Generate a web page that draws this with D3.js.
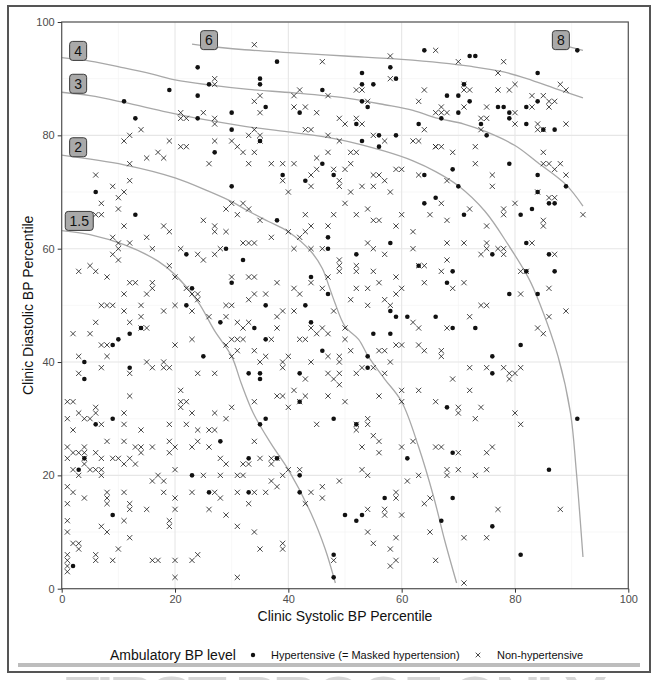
<!DOCTYPE html>
<html>
<head>
<meta charset="utf-8">
<script src="https://cdn.jsdelivr.net/npm/d3@7"></script>
<style>
body { margin: 0; background: #fff; }
svg { display: block; font-family: "Liberation Sans", Arial, sans-serif; }
</style>
</head>
<body>
<svg id="chart" width="663" height="680"></svg>
<script>
// Hypertensive (= masked hypertension) points, [systolic pct, diastolic pct]
var hypertensive = [
	[24,92],[26,89],[19,88],[24,87],[11,86],[13,83],[24,83],[30,84],[30,81],[27,77],[6,70],[13,66],[30,71],[22,59],[23,53],[29,60],[32,58],[30,54],[22,50],
	[38,93],[64,95],[35,90],[35,89],[36,85],[46,88],[42,84],[53,91],[58,92],[53,89],[55,89],[59,90],[53,86],[54,85],[52,82],[63,82],[35,79],[39,73],[43,72],[46,75],[48,73],[53,79],[56,80],[56,78],[59,80],[64,73],[64,68],[66,69],[38,65],[47,62],[58,61],[47,60],[52,59],[63,57],[44,55],[47,52],[36,50],[43,50],
	[72,94],[73,94],[84,91],[91,95],[71,89],[68,87],[70,87],[72,86],[84,86],[77,85],[78,85],[79,84],[79,83],[82,85],[70,84],[67,83],[74,82],[75,80],[82,82],[85,81],[87,81],[69,74],[70,71],[79,75],[84,73],[89,71],[84,70],[86,68],[87,68],[71,66],[81,66],[83,67],[82,61],[76,59],[86,59],[69,56],[68,54],[82,56],[87,56],[79,52],[84,52],
	[14,46],[12,45],[10,44],[9,43],[4,40],[4,37],[12,39],[25,41],[28,47],[33,38],[6,29],[9,30],[4,23],[3,21],[28,26],[33,23],[23,20],[26,17],[33,17],[9,13],[2,4],
	[34,46],[36,44],[44,47],[46,42],[55,45],[58,45],[58,49],[59,48],[61,48],[66,48],[54,41],[35,38],[35,37],[42,38],[54,39],[42,33],[36,30],[35,29],[48,30],[52,29],[61,23],[38,23],[42,20],[42,17],[50,13],[52,12],[53,13],[57,16],[48,6],[48,2],
	[69,46],[73,46],[81,43],[76,41],[76,38],[68,32],[91,30],[69,24],[86,21],[69,16],[67,12],[76,11],[81,6]
];

// Non-hypertensive points
var nonHypertensive = [
	[27,90],[27,89],[14,81],[11,79],[12,80],[21,84],[21,83],[22,83],[25,84],[27,83],[27,82],[33,80],[19,79],[21,78],[22,78],[27,79],[30,79],[31,78],[32,77],[33,75],[26,75],[15,76],[17,77],[18,76],[12,75],[6,73],[9,71],[12,72],[10,69],[11,70],[7,68],[6,66],[7,66],[10,67],[11,64],[18,64],[19,63],[25,65],[27,64],[27,63],[29,63],[30,68],[29,67],[31,66],[32,68],[33,67],[9,62],[10,61],[10,60],[9,59],[10,58],[12,61],[15,62],[16,60],[3,56],[5,57],[6,56],[8,55],[12,54],[13,54],[16,54],[16,53],[15,52],[11,52],[7,50],[8,50],[9,50],[14,50],[20,50],[19,57],[20,55],[21,60],[24,59],[25,58],[22,53],[23,52],[24,52],[24,51],[27,59],[28,60],[32,61],[33,61],[30,55],[29,50],[30,50],[33,55],[33,51],
	[34,96],[46,93],[58,94],[66,95],[34,86],[35,87],[35,84],[41,87],[42,88],[47,87],[41,85],[43,85],[45,84],[43,81],[44,81],[47,80],[52,88],[53,88],[58,90],[54,86],[49,83],[50,82],[52,83],[53,82],[64,88],[63,86],[64,81],[66,84],[34,81],[35,80],[35,79],[34,77],[37,75],[39,75],[41,75],[39,72],[44,73],[45,74],[44,71],[45,76],[47,77],[48,74],[49,72],[49,71],[50,74],[51,75],[51,77],[52,77],[49,79],[55,80],[57,79],[62,79],[63,79],[66,78],[55,73],[56,73],[57,72],[59,74],[60,74],[63,73],[53,71],[55,71],[51,70],[58,70],[40,70],[50,68],[35,65],[43,66],[48,66],[52,66],[54,67],[55,65],[56,65],[60,66],[65,66],[59,64],[62,63],[37,62],[40,63],[42,62],[43,63],[44,64],[47,64],[34,61],[41,60],[44,60],[46,60],[54,61],[55,60],[62,60],[57,59],[49,58],[49,57],[49,56],[52,57],[52,56],[55,56],[63,57],[64,57],[34,55],[38,54],[44,54],[47,55],[34,52],[36,52],[41,53],[42,52],[46,53],[52,53],[54,53],[56,54],[59,55],[57,51],[58,50],[59,52],[60,53],[64,54],[51,51],[54,50],
	[70,93],[78,93],[77,91],[71,89],[71,88],[72,88],[71,85],[77,88],[79,88],[80,89],[83,87],[85,87],[88,89],[89,88],[86,86],[86,85],[87,86],[80,84],[83,85],[75,85],[67,85],[67,84],[68,84],[74,83],[75,83],[74,81],[80,82],[84,82],[84,81],[85,81],[89,82],[66,78],[67,78],[69,77],[73,78],[73,75],[68,72],[76,73],[76,71],[85,77],[85,75],[86,75],[87,74],[88,75],[89,73],[84,70],[86,69],[87,69],[92,66],[67,68],[72,67],[68,65],[68,61],[71,61],[75,64],[78,67],[78,66],[80,68],[85,65],[85,64],[83,61],[75,61],[75,60],[74,59],[77,60],[78,60],[78,59],[87,59],[68,58],[67,56],[69,53],[71,54],[81,56],[82,56],[81,52],[86,53],[74,50],[75,50],
	[11,49],[14,48],[18,49],[6,47],[12,47],[14,46],[15,46],[2,45],[5,45],[7,43],[8,43],[8,41],[3,41],[3,38],[7,39],[12,38],[15,40],[16,39],[18,40],[18,39],[19,39],[20,43],[23,44],[24,38],[27,38],[26,48],[29,48],[30,44],[31,44],[32,44],[29,43],[31,42],[30,41],[31,47],[32,46],[33,47],[23,49],[12,34],[1,33],[2,33],[1,30],[3,31],[4,30],[5,30],[6,31],[6,32],[7,29],[11,31],[11,29],[2,28],[21,35],[21,33],[22,33],[21,32],[14,28],[19,29],[22,29],[23,31],[24,28],[26,28],[27,28],[27,31],[29,30],[30,32],[1,25],[4,25],[2,24],[3,24],[4,24],[1,23],[4,23],[4,22],[2,21],[3,20],[5,21],[6,21],[7,21],[7,20],[6,24],[7,23],[8,26],[9,23],[10,23],[11,22],[12,23],[13,22],[11,26],[13,25],[14,25],[14,24],[16,25],[19,26],[20,25],[19,24],[23,25],[24,26],[26,25],[28,23],[29,22],[32,22],[33,22],[20,21],[16,19],[17,20],[18,19],[25,20],[28,20],[31,20],[32,20],[1,18],[2,17],[1,15],[4,16],[8,17],[8,16],[8,15],[11,17],[12,15],[12,14],[15,14],[18,17],[20,16],[20,14],[23,17],[27,17],[28,16],[26,14],[31,17],[33,15],[29,13],[1,12],[1,10],[7,11],[8,10],[11,12],[19,12],[19,11],[31,11],[12,9],[2,8],[3,8],[3,7],[10,7],[1,6],[1,5],[1,4],[1,3],[6,6],[6,5],[9,5],[16,5],[17,5],[20,5],[23,5],[24,6],[20,2],[31,2],
	[38,48],[39,49],[41,49],[48,49],[38,46],[37,44],[42,44],[43,44],[44,46],[45,45],[46,46],[47,45],[50,46],[50,44],[34,42],[35,40],[36,41],[47,41],[39,40],[39,39],[40,41],[44,40],[49,41],[49,40],[51,42],[56,42],[57,42],[59,43],[60,43],[63,43],[64,42],[62,47],[63,46],[58,40],[43,37],[47,38],[48,37],[49,38],[49,36],[52,38],[53,39],[55,39],[57,38],[34,33],[38,34],[39,34],[40,32],[41,35],[42,33],[43,34],[47,34],[50,33],[56,34],[60,35],[60,33],[63,35],[66,33],[45,29],[52,29],[54,30],[54,29],[52,28],[55,27],[56,26],[56,24],[53,25],[34,26],[60,25],[62,26],[66,25],[35,23],[37,23],[37,22],[38,23],[40,21],[39,20],[42,21],[37,19],[38,18],[34,17],[36,17],[44,17],[43,15],[46,18],[46,16],[49,19],[53,21],[54,20],[61,19],[63,20],[54,14],[57,14],[57,13],[59,17],[59,16],[60,13],[64,15],[65,16],[34,10],[35,7],[39,8],[39,7],[54,10],[55,8],[59,9],[58,7],[58,4],[59,5],[65,10],[66,5],[48,5],
	[89,49],[86,48],[72,48],[68,46],[84,46],[85,45],[67,42],[67,41],[72,39],[75,39],[78,39],[79,38],[79,37],[80,38],[81,39],[69,37],[72,35],[70,32],[70,31],[74,32],[73,30],[80,31],[81,29],[67,25],[70,24],[75,24],[76,25],[68,21],[68,20],[70,21],[73,20],[75,21],[77,14],[88,14],[71,9],[75,9],[71,1]
];

// iso-lines of ambulatory BP level
var curve15 = [[0,63.2],[5,62.5],[11,60.7],[17,57.8],[20,55.4],[24,50.7],[27,45.5],[30,41],[31.7,36.2],[33.8,31],[37,25.5],[40,21],[44,13.3],[46.5,7],[48.3,1]];
var curve2 = [[0,76.5],[11,74.8],[20,72.5],[26,70.1],[30,68.3],[33,66.6],[36.5,64.8],[40,63],[44,59.5],[46,56.5],[47.2,53.3],[48.2,50.5],[50,46.3],[52.4,44],[54.1,41],[57,37],[60,33],[63,25],[65.7,16],[67.6,8.5],[69.7,1]];
var curve3 = [[0,87.6],[5,87],[11,85.8],[18.6,84.1],[25,82.8],[32.3,81.6],[40,80.6],[48.8,79.3],[57,77.2],[62,75.5],[66,73.6],[70,71.1],[74.7,66.6],[78.8,60.7],[82.4,54.8],[84.3,50.5],[87.6,41],[89.8,31],[90.8,21],[92,5.6]];
var curve4 = [[0,93.7],[5,93.1],[11,91.9],[16,90.8],[20,89.8],[26,88.9],[33,88.1],[41,87.5],[50,86.6],[57,85.4],[62,84.4],[66,83.1],[71,82],[75,80.6],[80,78.2],[84,75.2],[89,71.3],[92,67.5]];
var curve6 = [[23,96.1],[28,95.5],[32.3,95.1],[40,94.6],[50,94],[60,93.4],[67,92.8],[72,92.2],[78,91.2],[83,89.7],[87,88.3],[92,86.6]];
var curve8 = [[89.6,95.6],[92,95]];

var curveLabels = ['1.5', '2', '3', '4', '6', '8'];
var curveLabelAt = [[3.1,64.9],[2.9,77.9],[2.9,89.1],[2.9,94.9],[26,96.8],[88.1,96.8]];

var xTicks = [0, 20, 40, 60, 80, 100];
var yTicks = [0, 20, 40, 60, 80, 100];
var minorTicks = [10, 30, 50, 70, 90];

var svg = d3.select('#chart');
var x = d3.scaleLinear().domain([0, 100]).range([61.7, 628.3]);
var y = d3.scaleLinear().domain([0, 100]).range([588.7, 22]);

// proof watermark, frame and footer bar
svg.append('text')
	.attr('x', 62).attr('y', 722)
	.attr('textLength', 545)
	.attr('font-size', 64).attr('font-weight', 'bold')
	.attr('fill', '#d6d6d6')
	.text('FIRST PROOF ONLY');
svg.append('rect')
	.attr('x', 8).attr('y', 6).attr('width', 642).attr('height', 666)
	.attr('fill', 'none').attr('stroke', '#555').attr('stroke-width', 2);
svg.append('line')
	.attr('x1', 18).attr('x2', 640).attr('y1', 665).attr('y2', 665)
	.attr('stroke', '#bdbdbd').attr('stroke-width', 4);

// grid
var grid = svg.append('g');
grid.selectAll('line.vmin').data(minorTicks).enter().append('line')
	.attr('x1', x).attr('x2', x).attr('y1', y(0)).attr('y2', y(100))
	.attr('stroke', '#f2f2f2').attr('stroke-width', 0.6);
grid.selectAll('line.hmin').data(minorTicks).enter().append('line')
	.attr('y1', y).attr('y2', y).attr('x1', x(0)).attr('x2', x(100))
	.attr('stroke', '#f2f2f2').attr('stroke-width', 0.6);
grid.selectAll('line.vmaj').data(xTicks).enter().append('line')
	.attr('x1', x).attr('x2', x).attr('y1', y(0)).attr('y2', y(100))
	.attr('stroke', '#e6e6e6').attr('stroke-width', 1.1);
grid.selectAll('line.hmaj').data(yTicks).enter().append('line')
	.attr('y1', y).attr('y2', y).attr('x1', x(0)).attr('x2', x(100))
	.attr('stroke', '#e6e6e6').attr('stroke-width', 1.1);

// iso curves
var line = d3.line()
	.x(function (d) { return x(d[0]); })
	.y(function (d) { return y(d[1]); })
	.curve(d3.curveCatmullRom.alpha(0.5));
[curve15, curve2, curve3, curve4, curve6, curve8].forEach(function (c) {
	svg.append('path')
		.attr('d', line(c))
		.attr('fill', 'none')
		.attr('stroke', '#a8a8a8')
		.attr('stroke-width', 1.3);
});

// points
var cross = 'M-2.6,-2.6L2.6,2.6M-2.6,2.6L2.6,-2.6';
svg.append('g').selectAll('path').data(nonHypertensive).enter().append('path')
	.attr('d', cross)
	.attr('transform', function (d) { return 'translate(' + x(d[0]) + ',' + y(d[1]) + ')'; })
	.attr('stroke', '#1a1a1a').attr('stroke-width', 0.8).attr('fill', 'none');
svg.append('g').selectAll('circle').data(hypertensive).enter().append('circle')
	.attr('cx', function (d) { return x(d[0]); })
	.attr('cy', function (d) { return y(d[1]); })
	.attr('r', 2.3)
	.attr('fill', '#111');

// curve labels
var labG = svg.append('g');
curveLabels.forEach(function (t, i) {
	var w = t.length > 1 ? 28 : 17;
	var cx = x(curveLabelAt[i][0]), cy = y(curveLabelAt[i][1]);
	labG.append('rect')
		.attr('x', cx - w / 2).attr('y', cy - 9.5)
		.attr('width', w).attr('height', 19)
		.attr('rx', 3)
		.attr('fill', '#a9a9a9').attr('stroke', '#3a3a3a').attr('stroke-width', 1);
	labG.append('text')
		.attr('x', cx).attr('y', cy + 5)
		.attr('text-anchor', 'middle')
		.attr('font-size', 14).attr('fill', '#111')
		.text(t);
});

// panel border
svg.append('rect')
	.attr('x', x(0)).attr('y', y(100))
	.attr('width', x(100) - x(0)).attr('height', y(0) - y(100))
	.attr('fill', 'none').attr('stroke', '#555').attr('stroke-width', 1.2);

// axes
var xAxis = d3.axisBottom(x).tickValues(xTicks).tickSize(4).tickPadding(3);
var yAxis = d3.axisLeft(y).tickValues(yTicks).tickSize(4).tickPadding(3);
var xg = svg.append('g').attr('transform', 'translate(0,' + y(0) + ')').call(xAxis);
var yg = svg.append('g').attr('transform', 'translate(' + x(0) + ',0)').call(yAxis);
[xg, yg].forEach(function (g) {
	g.select('.domain').remove();
	g.selectAll('line').attr('stroke', '#333');
	g.selectAll('text').attr('font-size', 11).attr('fill', '#4d4d4d')
		.attr('font-family', '"Liberation Sans", Arial, sans-serif');
});

svg.append('text')
	.attr('x', (x(0) + x(100)) / 2).attr('y', 621)
	.attr('text-anchor', 'middle').attr('font-size', 14).attr('fill', '#111')
	.text('Clinic Systolic BP Percentile');
svg.append('text')
	.attr('transform', 'translate(33,' + ((y(0) + y(100)) / 2) + ') rotate(-90)')
	.attr('text-anchor', 'middle').attr('font-size', 14).attr('fill', '#111')
	.text('Clinic Diastolic BP Percentile');

// legend
var leg = svg.append('g');
leg.append('text').attr('x', 110).attr('y', 660).attr('font-size', 14).attr('fill', '#111')
	.text('Ambulatory BP level');
leg.append('circle').attr('cx', 253).attr('cy', 655).attr('r', 2.2).attr('fill', '#111');
leg.append('text').attr('x', 271).attr('y', 659).attr('font-size', 11).attr('fill', '#111')
	.text('Hypertensive (= Masked hypertension)');
leg.append('path').attr('d', 'M-2.3,-2.3L2.3,2.3M-2.3,2.3L2.3,-2.3')
	.attr('transform', 'translate(478,655)')
	.attr('stroke', '#1a1a1a').attr('stroke-width', 0.8);
leg.append('text').attr('x', 497).attr('y', 659).attr('font-size', 11).attr('fill', '#111')
	.text('Non-hypertensive');
</script>
</body>
</html>
